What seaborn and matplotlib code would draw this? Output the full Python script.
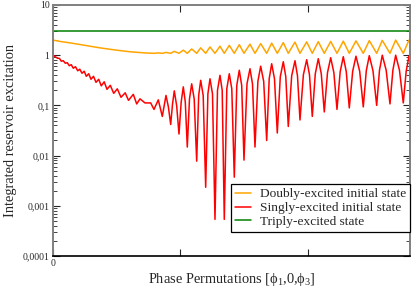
import matplotlib
matplotlib.use("Agg")
import matplotlib.pyplot as plt
import pandas as pd
import seaborn as sns


# x is the phase permutation in plot units (0 .. 357), y is the excitation
red_x = [0.0, 4.5, 6.5, 8.3, 10.3, 12.3, 14.3, 16.3, 18.3, 20.3, 22.5, 24.7, 26.8,
         29.0, 31.2, 33.3, 35.7, 38.0, 40.5, 43.0, 45.7, 48.3, 51.2, 54.0, 57.3,
         60.7, 64.3, 68.0, 72.2, 75.5, 80.3, 83.7, 87.0, 92.0, 97.7, 101.0, 105.3,
         109.3, 113.0, 115.4, 117.7, 119.5, 121.3, 123.7, 126.0, 128.2, 130.3,
         132.3, 134.3, 136.5, 138.7, 141.2, 143.7, 145.7, 147.7, 150.2, 152.7,
         154.9, 157.0, 159.5, 162.0, 164.5, 167.0, 169.2, 171.3, 173.8, 176.3,
         178.8, 181.3, 183.8, 186.3, 188.7, 191.0, 194.0, 197.0, 199.5, 202.0,
         204.9, 207.7, 210.7, 213.7, 216.2, 218.7, 221.5, 224.3, 227.3, 230.3,
         232.8, 235.3, 238.7, 242.0, 244.5, 247.0, 250.4, 253.7, 256.5, 259.3,
         262.3, 265.3, 268.3, 271.3, 274.5, 277.7, 280.9, 284.0, 287.2, 290.3,
         293.3, 296.3, 299.7, 303.0, 306.7, 310.3, 313.3, 316.3, 320.0, 323.7,
         326.5, 329.3, 333.2, 337.0, 339.9, 342.7, 346.5, 350.3, 353.2, 356.0, 357.0]
red_y = [1.0, 0.871, 0.861, 0.759, 0.776, 0.692, 0.708, 0.617, 0.646, 0.550, 0.589,
         0.490, 0.525, 0.437, 0.479, 0.380, 0.427, 0.331, 0.380, 0.288, 0.331,
         0.245, 0.295, 0.209, 0.251, 0.174, 0.214, 0.145, 0.178, 0.126, 0.166,
         0.107, 0.135, 0.112, 0.112, 0.0832, 0.129, 0.0603, 0.158, 0.0933, 0.0417,
         0.105, 0.195, 0.0977, 0.0269, 0.117, 0.234, 0.117, 0.0148, 0.135, 0.269,
         0.135, 0.00776, 0.158, 0.316, 0.158, 0.00234, 0.170, 0.339, 0.170,
         0.000537, 0.200, 0.398, 0.200, 0.000537, 0.214, 0.427, 0.214, 0.00372,
         0.251, 0.501, 0.251, 0.00813, 0.269, 0.537, 0.269, 0.0148, 0.302, 0.603,
         0.302, 0.0200, 0.339, 0.676, 0.339, 0.0282, 0.372, 0.741, 0.372, 0.0380,
         0.389, 0.776, 0.389, 0.0513, 0.407, 0.813, 0.407, 0.0603, 0.427, 0.851,
         0.427, 0.0741, 0.447, 0.891, 0.447, 0.0832, 0.468, 0.933, 0.468, 0.0891,
         0.479, 0.955, 0.479, 0.0933, 0.490, 0.977, 0.490, 0.100, 0.501, 1.0,
         0.501, 0.107, 0.501, 1.0, 0.501, 0.112, 0.479, 0.955, 0.93]

orange_x = [0.0, 7.0, 17.0, 32.0, 47.0, 62.0, 77.0, 92.0, 101.0, 105.3, 109.3,
            113.0, 117.7, 121.3, 126.0, 130.3, 134.3, 138.7, 143.7, 147.7, 152.7,
            157.0, 162.0, 167.0, 171.3, 176.3, 181.3, 186.3, 191.0, 197.0, 202.0,
            207.7, 213.7, 218.7, 224.3, 230.3, 235.3, 242.0, 247.0, 253.7, 259.3,
            265.3, 271.3, 277.7, 284.0, 290.3, 296.3, 303.0, 310.3, 316.3, 323.7,
            329.3, 337.0, 342.7, 350.3, 356.0, 357.0]
orange_y = [2.0, 1.88, 1.76, 1.57, 1.40, 1.27, 1.17, 1.11, 1.09, 1.11, 1.09,
            1.135, 1.09, 1.19, 1.09, 1.26, 1.09, 1.33, 1.09, 1.40, 1.09, 1.46,
            1.09, 1.51, 1.09, 1.57, 1.09, 1.62, 1.09, 1.66, 1.09, 1.70, 1.09,
            1.74, 1.09, 1.78, 1.09, 1.82, 1.09, 1.84, 1.09, 1.86, 1.09, 1.88,
            1.09, 1.905, 1.09, 1.93, 1.09, 1.95, 1.09, 1.97, 1.09, 2.0, 1.09,
            2.0, 1.97]

green_x = [0.0, 357.0]
green_y = [3.0, 3.0]

states = ["Doubly-excited initial state", "Singly-excited initial state",
          "Triply-excited state"]
colours = ["#ffa500", "#ff0000", "#008000"]

y_ticks = [0.0001, 0.001, 0.01, 0.1, 1, 10]
y_tick_labels = ["0,0001", "0,001", "0,01", "0,1", "1", "10"]
x_ticks = [0, 127.5, 255]
x_tick_labels = ["0", "", ""]

df = pd.concat([
    pd.DataFrame({"x": orange_x, "y": orange_y, "state": states[0]}),
    pd.DataFrame({"x": red_x, "y": red_y, "state": states[1]}),
    pd.DataFrame({"x": green_x, "y": green_y, "state": states[2]}),
], ignore_index=True)


sns.set_style("ticks")
plt.rcParams["font.family"] = ["Liberation Serif", "DejaVu Serif"]
plt.rcParams["mathtext.default"] = "regular"
plt.rcParams["lines.solid_joinstyle"] = "round"

fig = plt.figure(figsize=(4.15, 2.9), dpi=100)
ax = fig.add_axes([0.1277, 0.1172, 0.8602, 0.8656])
sns.lineplot(data=df, x="x", y="y", hue="state", hue_order=states,
             palette=colours, estimator=None, sort=False, lw=1.1, ax=ax)

ax.set_yscale("log")
ax.set_ylim(0.0001, 10)
ax.set_xlim(0, 357)
ax.set_yticks(y_ticks)
ax.set_yticklabels(y_tick_labels)
ax.set_xticks(x_ticks)
ax.set_xticklabels(x_tick_labels)

ax.tick_params(axis="both", which="both", direction="in", top=True, right=True,
               labelsize=7, pad=2.5)
ax.tick_params(axis="both", which="major", length=5, width=0.8)
ax.tick_params(axis="y", which="minor", length=3, width=0.6)
ax.tick_params(axis="x", which="minor", bottom=False, top=False)

for side in ["left", "top", "right"]:
    ax.spines[side].set_color("#808080")
    ax.spines[side].set_linewidth(1.4)
ax.spines["bottom"].set_color("black")
ax.spines["bottom"].set_linewidth(1.2)

ax.set_ylabel("Integrated reservoir excitation", fontsize=10.4, labelpad=4)
ax.set_xlabel("Phase Permutations [ϕ$_1$,0,ϕ$_3$]", fontsize=10.4, labelpad=2)

handles, labels = ax.get_legend_handles_labels()
leg = ax.legend(handles, labels, loc="lower right", bbox_to_anchor=(1.0, 0.095),
                borderaxespad=0, frameon=True, fancybox=False, edgecolor="black",
                framealpha=1, fontsize=9.6, handlelength=1.2, borderpad=0.3,
                labelspacing=0.12, handletextpad=0.65)
leg.get_frame().set_linewidth(0.9)

plt.savefig("out.png", dpi=100)
